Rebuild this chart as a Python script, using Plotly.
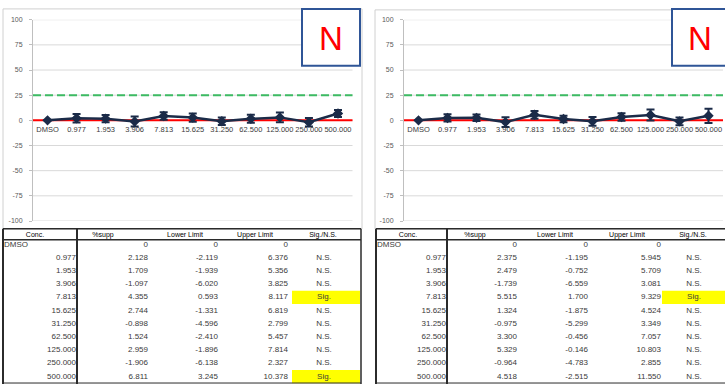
import plotly.graph_objects as go

W, H = 725, 387

# ---- data -------------------------------------------------------------
categories = ["DMSO", "0.977", "1.953", "3.906", "7.813", "15.625",
              "31.250", "62.500", "125.000", "250.000", "500.000"]

supp_left = [0, 2.128, 1.709, -1.097, 4.355, 2.744, -0.898, 1.524, 2.959, -1.906, 6.811]
lower_left = [0, -2.119, -1.939, -6.020, 0.593, -1.331, -4.596, -2.410, -1.896, -6.138, 3.245]
upper_left = [0, 6.376, 5.356, 3.825, 8.117, 6.819, 2.799, 5.457, 7.814, 2.327, 10.378]
sig_left = ["", "N.S.", "N.S.", "N.S.", "Sig.", "N.S.", "N.S.", "N.S.", "N.S.", "N.S.", "Sig."]

supp_right = [0, 2.375, 2.479, -1.739, 5.515, 1.324, -0.975, 3.300, 5.329, -0.964, 4.518]
lower_right = [0, -1.195, -0.752, -6.559, 1.700, -1.875, -5.299, -0.456, -0.146, -4.783, -2.515]
upper_right = [0, 5.945, 5.709, 3.081, 9.329, 4.524, 3.349, 7.057, 10.803, 2.855, 11.550]
sig_right = ["", "N.S.", "N.S.", "N.S.", "Sig.", "N.S.", "N.S.", "N.S.", "N.S.", "N.S.", "N.S."]

y_ticks = [100, 75, 50, 25, 0, -25, -50, -75, -100]
y_tick_labels = ["100", "75", "50", "25", "0", "-25", "-50", "-75", "-100"]
baseline = 0
threshold = 25
headers = ["Conc.", "%supp", "Lower Limit", "Upper Limit", "Sig./N.S."]
panel_label = "N"

# ---- styling ----------------------------------------------------------
NAVY = "#1B2B48"
FONT = "Liberation Sans"
NARROW = "Liberation Sans Narrow, Liberation Sans"
TXT = "#3a3a3a"


def px(x):
    return x / W


def py(y):
    return 1 - y / H


panels = [
    dict(series=(supp_left, lower_left, upper_left, sig_left),
         plot_x=(33, 352.5), border=(3, 362, 5), box=(302, 360), n_x=331,
         tbl=dict(left=3, div=77, right=361,
                  edges=[76, 148, 218, 288], sig_c=324, fill=(292, 360),
                  head=[35, 103, 185, 255, 323])),
    dict(series=(supp_right, lower_right, upper_right, sig_right),
         plot_x=(404, 723), border=(375, 730, 6), box=(672, 730), n_x=700,
         tbl=dict(left=376, div=447, right=730,
                  edges=[446, 517, 588, 661], sig_c=694, fill=(662, 725),
                  head=[408, 475, 555, 627, 693])),
]

PLOT_TOP, PLOT_BOT = 16, 221
ZERO_Y = 118
TBL_TOP, HEAD_LINE, TBL_BOT = 229, 240, 386
HEAD_Y, ROW0_Y, ROW_STEP = 235, 245, 13.45

fig = go.Figure()
shapes = []
annotations = []
layout_axes = {}


def fmt(v, i):
    return "0" if i == 0 else f"{v:.3f}"


for k, p in enumerate(panels, start=1):
    supp, lower, upper, sig = p["series"]
    xa = "x" if k == 1 else f"x{k}"
    ya = "y" if k == 1 else f"y{k}"
    plus = [None if u == l else u - s for s, l, u in zip(supp, lower, upper)]
    minus = [None if u == l else s - l for s, l, u in zip(supp, lower, upper)]

    fig.add_trace(go.Scatter(
        x=categories, y=supp, mode="lines+markers", xaxis=xa, yaxis=ya,
        line=dict(color=NAVY, width=2.5),
        marker=dict(symbol="diamond", size=8, color=NAVY),
        error_y=dict(type="data", symmetric=False, array=plus, arrayminus=minus,
                     color=NAVY, thickness=2, width=4),
        showlegend=False, hoverinfo="skip"))

    layout_axes[f"xaxis{'' if k == 1 else k}"] = dict(
        domain=[px(p["plot_x"][0]), px(p["plot_x"][1])], type="category",
        range=[-0.5, len(categories) - 0.5], anchor="free", position=py(ZERO_Y),
        showgrid=False, showline=False, zeroline=False, ticks="", tickangle=0,
        tickfont=dict(family=NARROW, size=7.5, color=TXT), ticklabelstandoff=4,
        fixedrange=True)
    layout_axes[f"yaxis{'' if k == 1 else k}"] = dict(
        domain=[py(PLOT_BOT), py(PLOT_TOP)], anchor=xa, range=[-100, 100],
        tickvals=y_ticks, ticktext=y_tick_labels,
        showgrid=False, zeroline=False,
        showline=True, linecolor="#BFBFBF", linewidth=1,
        ticks="outside", ticklen=3, tickcolor="#BFBFBF",
        tickfont=dict(family=NARROW, size=7, color="#595959"),
        ticklabelstandoff=5, fixedrange=True)

    # horizontal gridlines, then the reference lines on top of them
    for v in y_ticks:
        shapes.append(dict(type="line", xref=f"{xa} domain", yref=ya, x0=0, x1=1,
                           y0=v, y1=v, layer="below",
                           line=dict(color="#D9D9D9", width=1)))
    shapes.append(dict(type="line", xref=f"{xa} domain", yref=ya, x0=0, x1=1,
                       y0=threshold, y1=threshold, layer="below",
                       line=dict(color="#3DBB63", width=2, dash="8px,4px")))
    shapes.append(dict(type="line", xref=f"{xa} domain", yref=ya, x0=0, x1=1,
                       y0=baseline, y1=baseline, layer="below",
                       line=dict(color="#FF0000", width=2)))

    # chart frame
    bx0, bx1, by0 = p["border"]
    shapes.append(dict(type="rect", xref="paper", yref="paper",
                       x0=px(bx0), x1=px(bx1), y0=py(TBL_TOP), y1=py(by0),
                       line=dict(color="#D0D0D0", width=1), layer="below"))

    # label box
    shapes.append(dict(type="rect", xref="paper", yref="paper",
                       x0=px(p["box"][0]), x1=px(p["box"][1]), y0=py(63), y1=py(5),
                       fillcolor="white", line=dict(color="#2F5597", width=2)))
    annotations.append(dict(xref="paper", yref="paper", x=px(p["n_x"]), y=py(35),
                            text=panel_label, showarrow=False,
                            font=dict(family=FONT, size=33, color="#FF0000"),
                            xanchor="center", yanchor="middle"))

    # ---- table (drawn on a pixel-scaled overlay axis) ----
    t = p["tbl"]
    rows_y = [ROW0_Y + ROW_STEP * i for i in range(len(categories))]
    columns = [categories,
               [fmt(v, i) for i, v in enumerate(supp)],
               [fmt(v, i) for i, v in enumerate(lower)],
               [fmt(v, i) for i, v in enumerate(upper)]]

    for ci, col in enumerate(columns):
        xs, pos = [], []
        for val in col:
            if ci == 0 and not val.replace(".", "").isdigit():
                xs.append(t["left"] + 1)
                pos.append("middle right")
            else:
                xs.append(t["edges"][ci])
                pos.append("middle left")
        fig.add_trace(go.Scatter(
            x=xs, y=rows_y, text=col, mode="text", textposition=pos,
            xaxis="x9", yaxis="y9", cliponaxis=False,
            textfont=dict(family=NARROW, size=8, color=TXT),
            showlegend=False, hoverinfo="skip"))
    fig.add_trace(go.Scatter(
        x=[t["sig_c"]] * len(sig), y=rows_y, text=sig, mode="text",
        textposition="middle center", xaxis="x9", yaxis="y9", cliponaxis=False,
        textfont=dict(family=NARROW, size=8, color=TXT),
        showlegend=False, hoverinfo="skip"))
    fig.add_trace(go.Scatter(
        x=t["head"], y=[HEAD_Y] * len(headers), text=headers, mode="text",
        textposition="middle center", xaxis="x9", yaxis="y9", cliponaxis=False,
        textfont=dict(family=FONT, size=7, color="#000000"),
        showlegend=False, hoverinfo="skip"))

    for i, s in enumerate(sig):
        if s == "Sig.":
            shapes.append(dict(type="rect", xref="x9", yref="y9", layer="below",
                               x0=t["fill"][0], x1=t["fill"][1],
                               y0=rows_y[i] - ROW_STEP / 2, y1=rows_y[i] + ROW_STEP / 2,
                               fillcolor="#FFFF00", line=dict(width=0)))

    dark = "#2b2b2b"
    for (x0, y0, x1, y1, w) in [
        (t["left"], TBL_TOP, t["right"], TBL_TOP, 1.5),
        (t["left"], HEAD_LINE, t["right"], HEAD_LINE, 1.5),
        (t["left"], TBL_BOT, t["right"], TBL_BOT, 1),
        (t["left"], TBL_TOP, t["left"], H, 2),
        (t["div"], TBL_TOP, t["div"], H, 2),
        (t["right"], TBL_TOP, t["right"], H, 1.5),
    ]:
        shapes.append(dict(type="line", xref="x9", yref="y9",
                           x0=x0, x1=x1, y0=y0, y1=y1,
                           line=dict(color=dark, width=w)))

layout_axes["xaxis9"] = dict(domain=[0, 1], range=[0, W], visible=False,
                             fixedrange=True, anchor="y9")
layout_axes["yaxis9"] = dict(domain=[0, 1], range=[H, 0], visible=False,
                             fixedrange=True, anchor="x9")

fig.update_layout(
    width=W, height=H, margin=dict(l=0, r=0, t=0, b=0),
    paper_bgcolor="white", plot_bgcolor="rgba(0,0,0,0)",
    shapes=shapes, annotations=annotations, showlegend=False,
    **layout_axes)

fig.write_html("out.html")
